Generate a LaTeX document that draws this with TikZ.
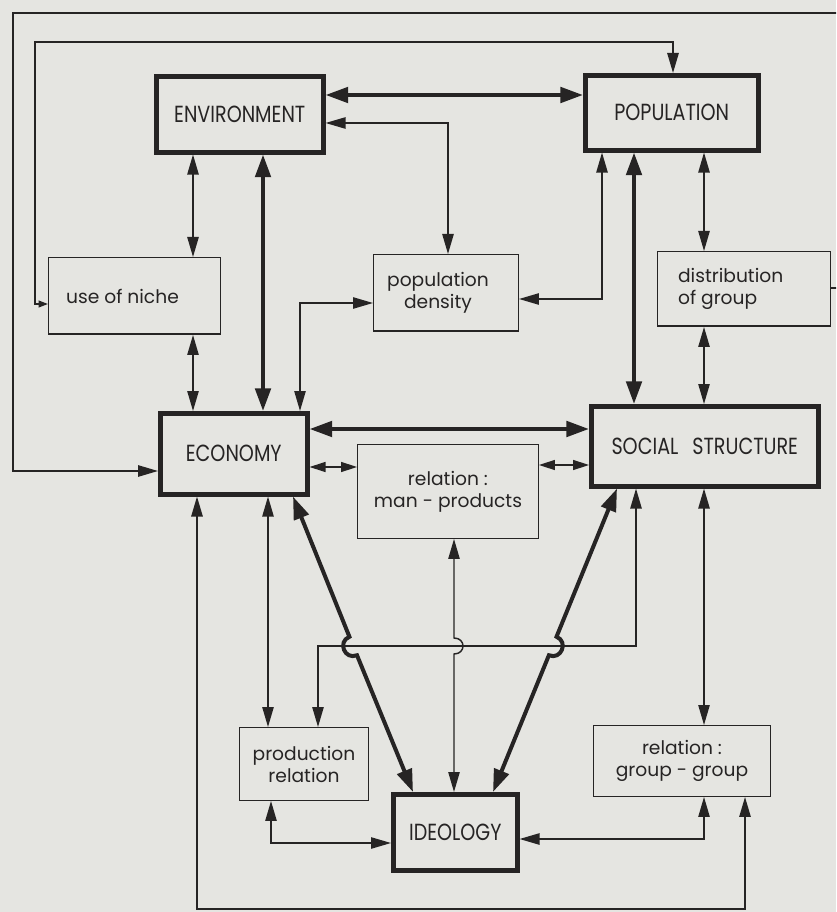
\documentclass[tikz,border=0pt]{standalone}
\usepackage{fontspec}
\setmainfont{Poppins}
\newfontfamily\capfont[FakeStretch=0.82]{Poppins}
\usetikzlibrary{arrows.meta,calc}
\definecolor{bg}{RGB}{229,229,225}
\definecolor{ink}{RGB}{38,36,36}
\begin{document}
\begin{tikzpicture}[x=0.75pt,y=-0.75pt,
  box/.style={draw=ink, line width=1.1pt, rectangle, anchor=north west, text=ink,
    inner sep=0pt, font=\fontsize{14}{16.5}\selectfont, align=center},
  bigbox/.style={box, line width=3.4pt, font=\capfont\fontsize{17.5}{20}\selectfont},
  thinln/.style={draw=ink, line width=1.1pt, line join=miter},
  thickln/.style={draw=ink, line width=3pt, line join=miter},
  tn/.tip={Triangle[length=15pt,width=8.5pt]},
  tk/.tip={Triangle[length=17pt,width=11.5pt]},
  ts/.tip={Triangle[length=12pt,width=7.5pt]},
  tx/.tip={Triangle[length=7pt,width=5pt]}
]
\fill[bg] (0,0) rectangle (836,912);
\useasboundingbox (0,0) rectangle (836,912);
\clip (0,0) rectangle (836,912);

% main boxes
\node[bigbox, minimum width=0.75pt*167, minimum height=0.75pt*76] (env) at (154,74) {ENVIRONMENT};
\node[bigbox, minimum width=0.75pt*173, minimum height=0.75pt*75] (pop) at (583,73) {POPULATION};
\node[bigbox, minimum width=0.75pt*147, minimum height=0.75pt*81] (eco) at (158,411) {ECONOMY};
\node[bigbox, minimum width=0.75pt*227, minimum height=0.75pt*80] (soc) at (589,404) {SOCIAL\hspace{0.6em}STRUCTURE};
\node[bigbox, minimum width=0.75pt*124, minimum height=0.75pt*76] (ideo) at (391,792) {IDEOLOGY};
% secondary boxes
\node[box, minimum width=0.75pt*171.5, minimum height=0.75pt*76.5] (niche) at (48,257) {use of niche\hspace*{18pt}};
\node[box, minimum width=0.75pt*144.5, minimum height=0.75pt*76.5] (dens) at (373,254) {population\hspace*{12pt}\\density\hspace*{12pt}};
\node[box, minimum width=0.75pt*172.5, minimum height=0.75pt*74.5, align=left] (dist) at (657,251) {distribution\hspace*{20pt}\\of group};
\node[box, minimum width=0.75pt*180.5, minimum height=0.75pt*93.5] (manp) at (357,444) {relation :\\man - products};
\node[box, minimum width=0.75pt*128.5, minimum height=0.75pt*72.5] (prod) at (239,727) {production\\relation};
\node[box, minimum width=0.75pt*176.5, minimum height=0.75pt*70.5] (grp) at (593,725) {relation :\\group - group};

% outer loops
\draw[thinln, line width=1.3pt, -tn] (dist.east |- 0,288) -- (850,288) -- (850,13) -- (13,13) -- (13,471) -- (eco.west |- 0,471);
\draw[thinln, line width=1.3pt, tx-tn] (niche.west |- 0,304) -- (35,304) -- (35,42) -- (673,42) -- (673,0 |- pop.north);

% top level
\draw[thickln, tk-tk] (env.east |- 0,95) -- (pop.west |- 0,95);
\draw[thinln, tn-tn] (env.east |- 0,123) -- (448,123) -- (448,0 |- dens.north);
\draw[thinln, tn-tn] (193,0 |- env.south) -- (193,0 |- niche.north);
\draw[thickln, tk-tk] (263,0 |- env.south) -- (263,0 |- eco.north);
\draw[thinln, tn-tn] (193,0 |- niche.south) -- (193,0 |- eco.north);
\draw[thinln, tn-tn] (300,0 |- eco.north) -- (300,303) -- (dens.west |- 0,303);
\draw[thinln, tn-tn] (602,0 |- pop.south) -- (602,299) -- (dens.east |- 0,299);
\draw[thickln, tk-tk] (634,0 |- pop.south) -- (634,0 |- soc.north);
\draw[thinln, tn-tn] (704,0 |- pop.south) -- (704,0 |- dist.north);
\draw[thinln, tn-tn] (704,0 |- dist.south) -- (704,0 |- soc.north);

% middle level
\draw[thickln, tk-tk] (eco.east |- 0,429) -- (soc.west |- 0,429);
\draw[thinln, ts-ts] (eco.east |- 0,467) -- (manp.west |- 0,467);
\draw[thinln, ts-ts] (manp.east |- 0,465) -- (soc.west |- 0,465);

% lower level
\draw[thinln, tn-tn] (636,0 |- soc.south) -- (636,646) -- (318,646) -- (318,0 |- prod.north);
\draw[thinln, tn-tn] (454,0 |- manp.south) -- (454,638) .. controls (466,638) and (466,654) .. (454,654) -- (454,0 |- ideo.north);
\draw[thinln, tn-tn] (704,0 |- soc.south) -- (704,0 |- grp.north);
\draw[thinln, tn-tn] (268,0 |- eco.south) -- (268,0 |- prod.north);
\draw[thinln, line width=1.3pt, tn-tn] (197,0 |- eco.south) -- (197,909) -- (745,909) -- (745,0 |- grp.south);
\draw[thickln, tk-tk] (293,0 |- eco.south) -- (349.4,636.75) .. controls (337.1,641.8) and (344.7,660.3) .. (357.0,655.25) -- (413,0 |- ideo.north);
\draw[thickln, tk-tk] (617,0 |- soc.south) -- (556.5,636.75) .. controls (568.8,641.8) and (561.2,660.3) .. (548.9,655.25) -- (493,0 |- ideo.north);
\draw[thinln, tn-tn] (271,0 |- prod.south) -- (271,843) -- (ideo.west |- 0,843);
\draw[thinln, tn-tn] (704,0 |- grp.south) -- (704,839) -- (ideo.east |- 0,839);
\end{tikzpicture}
\end{document}
